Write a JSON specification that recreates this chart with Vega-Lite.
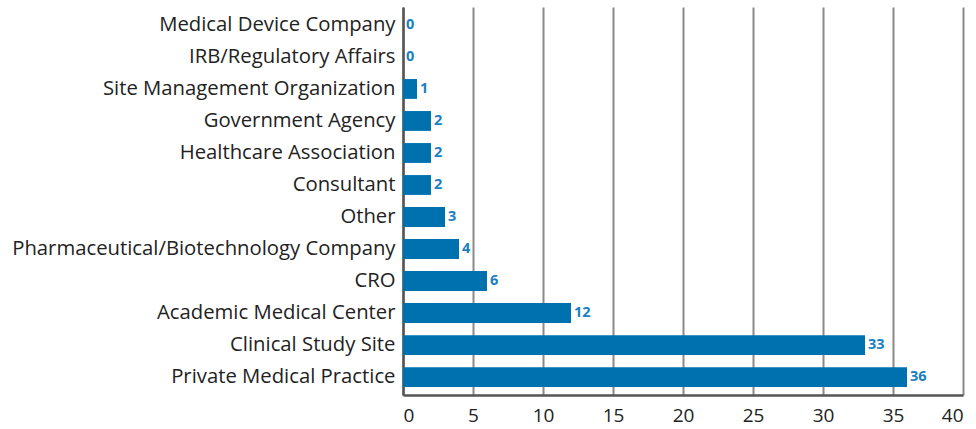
{
  "$schema": "https://vega.github.io/schema/vega-lite/v6.json",
  "autosize": {"type": "none"},
  "padding": {"left": 403, "top": 7, "right": 13, "bottom": 34},
  "width": 560,
  "height": 388,
  "background": "white",
  "data": {"values": [
    {"category": "Medical Device Company", "count": 0},
    {"category": "IRB/Regulatory Affairs", "count": 0},
    {"category": "Site Management Organization", "count": 1},
    {"category": "Government Agency", "count": 2},
    {"category": "Healthcare Association", "count": 2},
    {"category": "Consultant", "count": 2},
    {"category": "Other", "count": 3},
    {"category": "Pharmaceutical/Biotechnology Company", "count": 4},
    {"category": "CRO", "count": 6},
    {"category": "Academic Medical Center", "count": 12},
    {"category": "Clinical Study Site", "count": 33},
    {"category": "Private Medical Practice", "count": 36}
  ]},
  "encoding": {
    "y": {
      "field": "category", "type": "nominal", "sort": null,
      "scale": {"paddingInner": 0.38, "paddingOuter": 0.25},
      "axis": {
        "title": null, "ticks": false, "labelFont": "Open Sans", "labelFontSize": 20.3,
        "labelColor": "#222222", "labelPadding": 8, "domainColor": "#555555",
        "domainWidth": 2.5, "labelLimit": 500
      }
    },
    "x": {
      "field": "count", "type": "quantitative",
      "scale": {"domain": [0, 40]},
      "axis": {
        "title": null, "values": [0, 5, 10, 15, 20, 25, 30, 35, 40],
        "ticks": false, "labelFont": "Open Sans", "labelFontSize": 19, "labelColor": "#222222",
        "labelPadding": 11, "domainColor": "#555555", "domainWidth": 2.5,
        "grid": true, "gridColor": "#8a8a8a", "gridWidth": 2
      }
    }
  },
  "layer": [
    {"mark": {"type": "bar", "color": "#0071af"}},
    {
      "mark": {"type": "text", "align": "left", "baseline": "middle", "dx": 3,
        "font": "Open Sans", "fontWeight": "bold", "fontSize": 14.5, "color": "#1a80c2"},
      "encoding": {"text": {"field": "count", "type": "quantitative"}}
    }
  ],
  "config": {"view": {"stroke": null}}
}
